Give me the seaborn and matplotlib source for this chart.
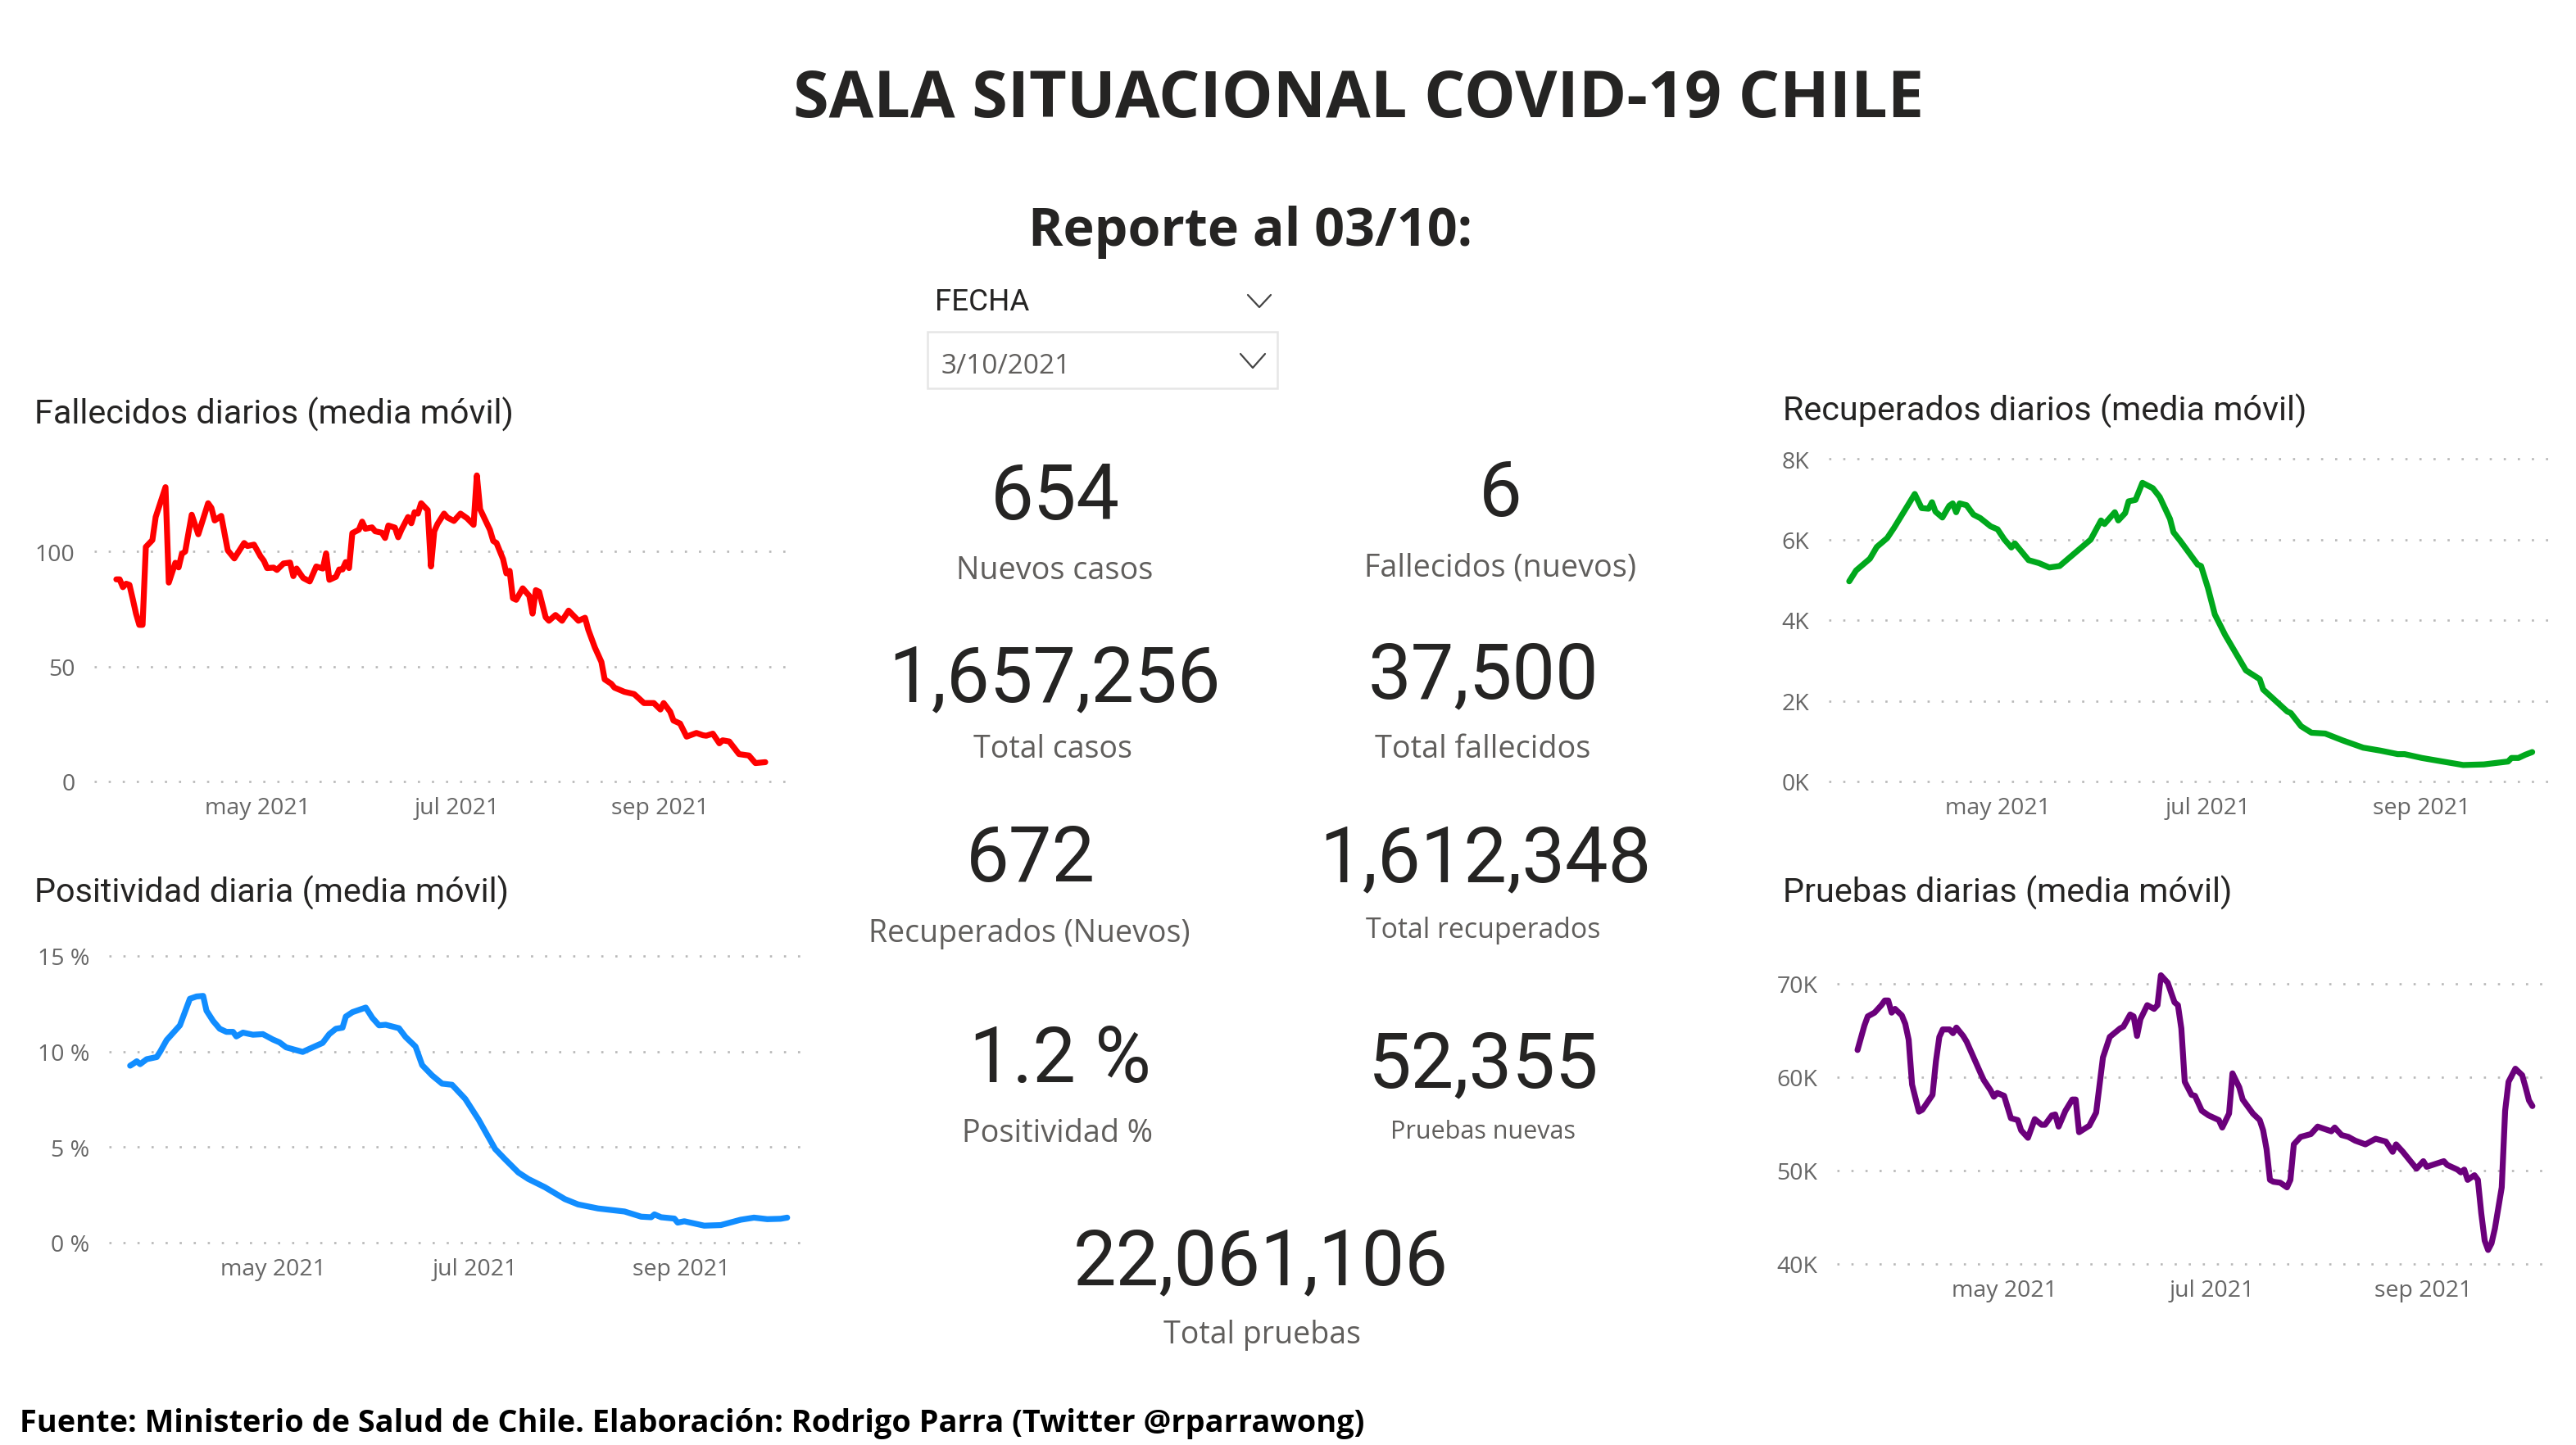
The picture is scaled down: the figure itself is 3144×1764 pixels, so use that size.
import pandas as pd
import matplotlib
matplotlib.use('Agg')
import matplotlib.pyplot as plt
from matplotlib.patches import Rectangle
from matplotlib.ticker import FixedLocator, FixedFormatter
import seaborn as sns

# Datos: dia contado desde el 1 de marzo de 2021
dias_fallecidos = [18, 19, 20, 21, 22, 23, 24, 25, 26, 27, 29, 30, 33, 34, 36, 37, 38, 39, 41, 43, 46, 47, 48, 50, 51, 52,
                   54, 57, 58, 60, 62, 63, 64, 66, 67, 69, 71, 72, 73, 75, 77, 79, 81, 82, 83, 85, 86, 87, 88, 89, 90, 92,
                   93, 94, 96, 97, 99, 100, 101, 103, 104, 105, 107, 108, 109, 110, 111, 113, 114, 115, 116, 118, 119, 121,
                   123, 125, 127, 128, 129, 132, 133, 134, 136, 137, 138, 139, 140, 142, 144, 145, 146, 147, 149, 150, 152,
                   154, 156, 159, 161, 162, 164, 166, 167, 169, 170, 173, 176, 179, 182, 184, 185, 187, 188, 190, 192, 195,
                   197, 198, 200, 202, 203, 205, 208, 211, 213, 216]
fallecidos = [87.9, 87.9, 84.5, 86.0, 85.5, 79.4, 73.0, 68.1, 68.1, 102.0, 105, 115, 128, 86.5, 95.1, 93.1, 99, 100, 116, 107.5,
              121, 119, 113.5, 115.5, 108, 100.5, 97, 103.7, 102.4, 103, 97.9, 96, 92.8, 93, 92, 94.8, 95.2, 89.3, 92.6, 88.5,
              87, 93.5, 92.6, 99.2, 87.7, 89, 92.2, 92.2, 95.4, 92.8, 108, 109.5, 113, 109.9, 110.5, 108.8, 108.2, 105.9, 111.3,
              110.4, 106.2, 109.5, 115, 112.3, 117.1, 116.5, 121, 118, 93.5, 108.8, 112, 116.5, 114.8, 113.3, 116.5, 114.5, 111.6,
              133.1, 118.4, 109.4, 104.6, 103.7, 96.7, 90.5, 91.6, 79.7, 79, 84, 80.7, 73, 83.2, 82.5, 71.4, 69.9, 72.4, 69.9, 74.3,
              69.9, 71.2, 66, 58.3, 52, 44.4, 42.5, 40.8, 39, 38, 34.1, 34.1, 31.3, 34.1, 30.3, 26.5, 25.2, 19.5, 21.1, 20.1, 19.9,
              20.8, 16.6, 17.9, 17.4, 11.9, 11.3, 8, 8.4]

dias_positividad = [18, 19, 20, 21, 23, 26, 27, 29, 33, 36, 38, 40, 41, 43, 45, 47, 49, 50, 52, 55, 58, 61, 63, 65, 70, 72, 76, 78,
                    80, 82, 83, 85, 89, 91, 93, 95, 99, 101, 104, 106, 109, 112, 115, 119, 123, 125, 128, 131, 135, 138, 143, 149,
                    153, 159, 167, 172, 175, 176, 178, 182, 183, 185, 191, 196, 202, 206, 210, 214, 216]
positividad = [9.26, 9.37, 9.49, 9.34, 9.6, 9.71, 9.98, 10.6, 11.37, 12.76, 12.88, 12.91, 12.14, 11.6, 11.19, 11.03, 11.03, 10.79,
               10.99, 10.88, 10.91, 10.63, 10.48, 10.22, 9.98, 10.14, 10.45, 10.91, 11.19, 11.25, 11.83, 12.06, 12.3, 11.76, 11.37,
               11.4, 11.22, 10.76, 10.26, 9.29, 8.75, 8.32, 8.26, 7.52, 6.44, 5.82, 4.9, 4.36, 3.67, 3.33, 2.9, 2.28, 2.0, 1.79, 1.63,
               1.36, 1.33, 1.48, 1.33, 1.26, 1.05, 1.12, 0.89, 0.92, 1.2, 1.31, 1.23, 1.25, 1.31]

dias_recuperados = [18, 20, 24, 26, 29, 31, 37, 39, 41, 42, 43, 45, 47, 48, 49, 50, 52, 54, 56, 59, 61, 63, 65, 66, 70, 73, 76, 79, 84,
                    88, 91, 92, 95, 96, 98, 99, 101, 103, 106, 108, 111, 112, 114, 119, 120, 122, 124, 127, 130, 133, 137, 138, 145,
                    146, 149, 152, 156, 161, 167, 172, 177, 179, 184, 190, 196, 202, 209, 210, 212, 214, 216]
recuperados = [4962, 5231, 5523, 5814, 6033, 6288, 7126, 6776, 6761, 6922, 6689, 6543, 6834, 6893, 6674, 6893, 6849, 6616, 6528, 6324,
               6251, 5996, 5800, 5902, 5486, 5413, 5304, 5341, 5705, 5996, 6470, 6382, 6674, 6470, 6652, 6944, 6980, 7403, 7271, 7053,
               6506, 6179, 5960, 5377, 5341, 4794, 4138, 3628, 3191, 2754, 2536, 2281, 1734, 1698, 1370, 1209, 1188, 1020, 838, 765,
               678, 678, 583, 495, 408, 423, 495, 583, 583, 663, 729]

dias_pruebas = [18, 20, 21, 23, 25, 26, 27, 28, 29, 31, 32, 33, 34, 36, 37, 40, 41, 42, 43, 45, 46, 47, 49, 50, 54, 55, 57, 58, 59, 61,
                63, 65, 66, 68, 70, 72, 73, 75, 76, 77, 79, 81, 82, 83, 86, 88, 90, 92, 93, 95, 96, 98, 99, 100, 101, 103, 105, 106,
                107, 109, 111, 112, 113, 114, 116, 117, 119, 121, 124, 125, 127, 128, 130, 131, 134, 136, 137, 138, 139, 140, 142,
                144, 145, 146, 148, 151, 153, 157, 158, 160, 162, 164, 167, 170, 173, 175, 176, 178, 182, 184, 185, 190, 191, 194,
                195, 196, 197, 199, 200, 201, 202, 203, 204, 205, 207, 208, 209, 211, 213, 214, 215, 216]
pruebas = [62.9, 65.5, 66.5, 66.9, 67.7, 68.2, 68.2, 66.9, 67.3, 66.6, 65.7, 64.0, 59.2, 56.3, 56.5, 58.1, 61.7, 64.3, 65.1, 65.1, 64.7,
           65.3, 64.4, 63.8, 60.5, 59.7, 58.6, 57.9, 58.3, 58.0, 55.6, 55.4, 54.3, 53.5, 55.5, 54.9, 54.9, 55.9, 56.0, 54.7, 56.4, 57.6,
           57.6, 54.1, 54.8, 56.2, 62.1, 64.3, 64.6, 65.2, 65.4, 66.7, 66.5, 64.4, 66.2, 67.7, 67.3, 67.7, 70.9, 70.1, 68.0, 67.7, 65.2,
           59.5, 58.1, 58.0, 56.4, 55.9, 55.4, 54.6, 56.1, 60.4, 58.9, 57.6, 56.1, 55.4, 54.3, 52.3, 49.0, 48.8, 48.7, 48.2, 49.0, 52.8,
           53.6, 53.9, 54.7, 54.2, 54.6, 53.8, 53.6, 53.2, 52.8, 53.4, 53.1, 52.0, 52.8, 52.0, 50.2, 51.0, 50.4, 51.0, 50.6, 50.1, 49.8,
           50.1, 49.0, 49.5, 49.0, 45.4, 42.5, 41.5, 42.2, 43.8, 48.2, 56.4, 59.5, 60.9, 60.2, 58.9, 57.5, 56.9]

meses = ['2021-05-01', '2021-07-01', '2021-09-01']
meses_txt = ['may 2021', 'jul 2021', 'sep 2021']

kpi_valores = ['654', '6', '1,657,256', '37,500', '672', '1,612,348', '1.2 %', '52,355', '22,061,106']
kpi_nombres = ['Nuevos casos', 'Fallecidos (nuevos)', 'Total casos', 'Total fallecidos', 'Recuperados (Nuevos)',
               'Total recuperados', 'Positividad %', 'Pruebas nuevas', 'Total pruebas']

W, H = 3144, 1765
inicio = pd.Timestamp('2021-03-01')

sns.set_theme(style='white')
plt.rcParams['font.family'] = ['Open Sans', 'DejaVu Sans']

fig = plt.figure(figsize=(W / 100, H / 100), dpi=100, facecolor='white')

# capa en pixeles para textos y selector de fecha
capa = fig.add_axes([0, 0, 1, 1])
capa.set_xlim(0, W)
capa.set_ylim(H, 0)
capa.axis('off')


def grafico(dias, valores, color, titulo, titulo_xy, caja, x_may, px_dia, ylim, y_ticks, y_txt):
    # caja = izquierda, arriba, derecha, abajo en pixeles
    iz, ar, de, ab = caja
    ax = fig.add_axes([iz / W, 1 - ab / H, (de - iz) / W, (ab - ar) / H], facecolor='none')
    fechas = inicio + pd.to_timedelta(dias, unit='D')
    sns.lineplot(x=fechas, y=valores, color=color, linewidth=5.2, ax=ax, clip_on=False, solid_joinstyle='round')
    may = pd.Timestamp(meses[0])
    ax.set_xlim(may + pd.Timedelta(days=(iz - x_may) / px_dia), may + pd.Timedelta(days=(de - x_may) / px_dia))
    ax.set_ylim(*ylim)
    ax.xaxis.set_major_locator(FixedLocator([matplotlib.dates.date2num(pd.Timestamp(m)) for m in meses]))
    ax.xaxis.set_major_formatter(FixedFormatter(meses_txt))
    ax.yaxis.set_major_locator(FixedLocator(y_ticks))
    ax.yaxis.set_major_formatter(FixedFormatter(y_txt))
    ax.tick_params(axis='both', length=0, labelsize=20.5, labelcolor='#666666')
    ax.tick_params(axis='x', pad=13)
    ax.tick_params(axis='y', pad=17)
    ax.grid(axis='y', color='#b8b8b8', linewidth=1.9, linestyle=(0, (1, 5.5)), clip_on=False)
    ax.set_axisbelow(True)
    ax.set_xlabel('')
    ax.set_ylabel('')
    sns.despine(ax=ax, left=True, bottom=True)
    capa.text(titulo_xy[0], titulo_xy[1], titulo, family=['Roboto', 'DejaVu Sans'], fontsize=29.8, color='#252423',
              ha='left', va='center')


grafico(dias_fallecidos, fallecidos, '#ff0000', 'Fallecidos diarios (media móvil)', (42, 506),
        (115, 562, 960, 955), 314, 4.0, (0, 140), [0, 50, 100], ['0', '50', '100'])
grafico(dias_positividad, positividad, '#118dff', 'Positividad diaria (media móvil)', (42, 1090),
        (133, 1168, 978, 1518), 333, 4.05, (0, 15), [0, 5, 10, 15], ['0 %', '5 %', '10 %', '15 %'])
grafico(dias_recuperados, recuperados, '#00a81c', 'Recuperados diarios (media móvil)', (2176, 502),
        (2232, 561, 3112, 955), 2438, 4.21, (0, 8000), [0, 2000, 4000, 6000, 8000], ['0K', '2K', '4K', '6K', '8K'])
grafico(dias_pruebas, pruebas, '#6b007b', 'Pruebas diarias (media móvil)', (2176, 1090),
        (2242, 1179, 3105, 1544), 2446, 4.16, (40, 72), [40, 50, 60, 70], ['40K', '50K', '60K', '70K'])

# titulos y fuente
capa.text(1658, 122, 'SALA SITUACIONAL COVID-19 CHILE', fontsize=57, fontweight='bold', color='#252423', ha='center', va='center')
capa.text(1526, 283, 'Reporte al 03/10:', fontsize=46.5, fontweight='bold', color='#252423', ha='center', va='center')
capa.text(24, 1738, 'Fuente: Ministerio de Salud de Chile. Elaboración: Rodrigo Parra (Twitter @rparrawong)',
          fontsize=27.3, fontweight='bold', color='#000000', ha='left', va='center')

# selector de fecha
capa.text(1141, 369, 'FECHA', family=['Roboto', 'DejaVu Sans'], fontsize=26.5, color='#252423', ha='left', va='center')
capa.add_patch(Rectangle((1132, 406), 427, 69, fill=False, edgecolor='#e6e6e6', linewidth=1.8))
capa.text(1149, 447, '3/10/2021', fontsize=24, color='#605e5c', ha='left', va='center')
capa.plot([1523, 1537, 1551], [361, 376, 361], color='#444444', linewidth=1.6)
capa.plot([1514, 1529, 1544], [433, 450, 433], color='#444444', linewidth=1.6)

# indicadores: centro x, y del valor y centro x, y del nombre
pos_valor = [(1288, 608), (1831, 604), (1287, 830), (1810, 826), (1258, 1050), (1813, 1050), (1294, 1295), (1811, 1301), (1539, 1542)]
pos_nombre = [(1287, 697), (1831, 693), (1285, 915), (1810, 915), (1256, 1140), (1810, 1136), (1291, 1384), (1810, 1382), (1540, 1630)]
tam_nombre = [27.2, 27.2, 27, 27.2, 27, 24.4, 27.2, 22, 27]
for txt, nombre, pv, pn, tam in zip(kpi_valores, kpi_nombres, pos_valor, pos_nombre, tam_nombre):
    capa.text(pv[0], pv[1], txt, family=['Roboto', 'DejaVu Sans'], fontsize=67.5, color='#252423', ha='center', va='center')
    capa.text(pn[0], pn[1], nombre, fontsize=tam, color='#605e5c', ha='center', va='center')

fig.savefig('out.png', dpi=100)
